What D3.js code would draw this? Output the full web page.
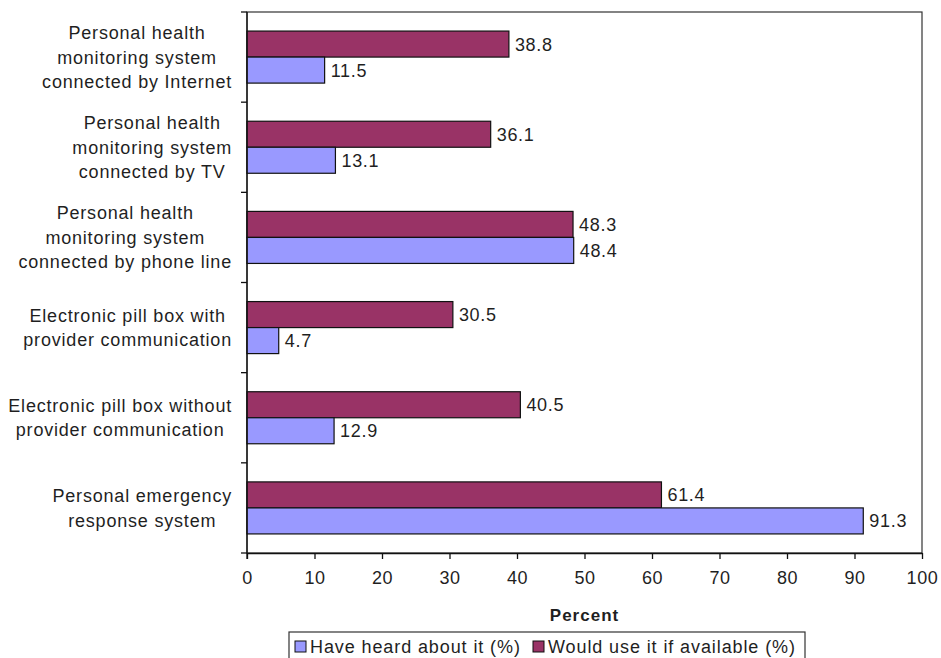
<!DOCTYPE html>
<html>
  <head>
    <meta charset="UTF-8" />
    <style>
      body { margin: 0; background: #fff; }
      text { font-family: "Liberation Sans", Arial, sans-serif; fill: #1f1f1f; }
    </style>
  </head>
  <body>
    <svg></svg>
    <script src="https://d3js.org/d3.v7.min.js"></script>
    <script>
      let width = 941,
        height = 658;

      // chart data, top to bottom
      var categories = [
        ["Personal health", "monitoring system", "connected by Internet"],
        ["Personal health", "monitoring system", "connected by TV"],
        ["Personal health", "monitoring system", "connected by phone line"],
        ["Electronic pill box with", "provider communication"],
        ["Electronic pill box without", "provider communication"],
        ["Personal emergency", "response system"],
      ];
      var wouldUse = [38.8, 36.1, 48.3, 30.5, 40.5, 61.4];
      var heardOf = [11.5, 13.1, 48.4, 4.7, 12.9, 91.3];
      var seriesNames = ["Would use it if available (%)", "Have heard about it (%)"];
      var seriesColors = ["#993366", "#9999ff"];
      var xTicks = [0, 10, 20, 30, 40, 50, 60, 70, 80, 90, 100];

      let margin = { left: 247, right: 19, top: 12, bottom: 105 };

      let svg = d3.select("svg").attr("width", width).attr("height", height);

      var keys = categories.map((c, i) => "c" + i);

      var x = d3.scaleLinear().domain([0, 100]).range([margin.left, width - margin.right]);
      var y = d3
        .scaleBand()
        .domain(keys)
        .range([margin.top, height - margin.bottom])
        .paddingInner(0.423)
        .paddingOuter(0.2115);
      var ySub = d3.scaleBand().domain([0, 1]).range([0, y.bandwidth()]);

      var step = y.step();
      var plotTop = margin.top,
        plotBottom = height - margin.bottom;

      // frame
      svg
        .append("rect")
        .attr("x", x(0))
        .attr("y", plotTop)
        .attr("width", x(100) - x(0))
        .attr("height", plotBottom - plotTop)
        .attr("fill", "none")
        .attr("stroke", "#333")
        .attr("stroke-width", 1.2);

      // bars
      var rows = keys.map((k, i) => ({ key: k, vals: [wouldUse[i], heardOf[i]] }));
      var groups = svg
        .append("g")
        .selectAll("g")
        .data(rows)
        .enter()
        .append("g")
        .attr("transform", (d) => "translate(0," + y(d.key) + ")");

      groups
        .selectAll("rect")
        .data((d) => d.vals)
        .enter()
        .append("rect")
        .attr("x", x(0))
        .attr("y", (d, j) => ySub(j))
        .attr("width", (d) => x(d) - x(0))
        .attr("height", ySub.bandwidth())
        .attr("fill", (d, j) => seriesColors[j])
        .attr("stroke", "#111")
        .attr("stroke-width", 1.2);

      groups
        .selectAll("text.val")
        .data((d) => d.vals)
        .enter()
        .append("text")
        .attr("class", "val")
        .attr("x", (d) => x(d) + 6)
        .attr("y", (d, j) => ySub(j) + ySub.bandwidth() / 2)
        .attr("dy", "0.36em")
        .style("font-size", "18px")
        .style("letter-spacing", "0.7px")
        .text((d) => d.toFixed(1));

      // x axis
      var xAxis = svg
        .append("g")
        .attr("transform", "translate(0," + plotBottom + ")")
        .call(d3.axisBottom(x).tickValues(xTicks).tickSize(6).tickPadding(12).tickSizeOuter(0));
      xAxis.select(".domain").attr("stroke", "#111").attr("stroke-width", 1.3);
      xAxis.selectAll(".tick line").attr("stroke", "#111").attr("stroke-width", 1.3);
      xAxis
        .selectAll(".tick text")
        .style("font-size", "18px")
        .style("letter-spacing", "0.6px")
        .style("font-family", "Liberation Sans, Arial, sans-serif")
        .attr("fill", "#1f1f1f");

      // y axis line and category ticks at band boundaries
      var yAxis = svg.append("g");
      yAxis
        .append("line")
        .attr("x1", x(0))
        .attr("x2", x(0))
        .attr("y1", plotTop)
        .attr("y2", plotBottom + 6)
        .attr("stroke", "#111")
        .attr("stroke-width", 1.3);
      yAxis
        .selectAll("line.tk")
        .data(d3.range(keys.length + 1))
        .enter()
        .append("line")
        .attr("class", "tk")
        .attr("x1", x(0) - 6)
        .attr("x2", x(0))
        .attr("y1", (i) => plotTop + i * step)
        .attr("y2", (i) => plotTop + i * step)
        .attr("stroke", "#111")
        .attr("stroke-width", 1.3);

      // category labels: centered lines, block right-aligned
      var labelRight = 232,
        lineH = 24.5;
      keys.forEach((k, i) => {
        var lines = categories[i];
        var cy = y(k) + y.bandwidth() / 2;
        var g = svg.append("g");
        var texts = g
          .selectAll("text")
          .data(lines)
          .enter()
          .append("text")
          .attr("text-anchor", "middle")
          .attr("y", (d, j) => cy + (j - (lines.length - 1) / 2) * lineH)
          .attr("dy", "0.36em")
          .style("font-size", "18px")
          .style("letter-spacing", "0.8px")
          .text((d) => d);
        var maxW = d3.max(texts.nodes(), (n) => n.getComputedTextLength());
        texts.attr("x", labelRight - maxW / 2);
      });

      // axis title
      svg
        .append("text")
        .attr("x", (x(0) + x(100)) / 2)
        .attr("y", 621)
        .attr("text-anchor", "middle")
        .style("font-size", "17px")
        .style("letter-spacing", "1px")
        .style("font-weight", "bold")
        .text("Percent");

      // legend
      var legend = svg.append("g");
      legend
        .append("rect")
        .attr("x", 289)
        .attr("y", 632)
        .attr("width", 516)
        .attr("height", 40)
        .attr("fill", "#fff")
        .attr("stroke", "#333")
        .attr("stroke-width", 1.2);
      var legItems = [
        { name: seriesNames[1], color: seriesColors[1], x: 295 },
        { name: seriesNames[0], color: seriesColors[0], x: 533 },
      ];
      legItems.forEach((d) => {
        legend
          .append("rect")
          .attr("x", d.x)
          .attr("y", 641)
          .attr("width", 11)
          .attr("height", 11)
          .attr("fill", d.color)
          .attr("stroke", "#111");
        legend
          .append("text")
          .attr("x", d.x + 15)
          .attr("y", 653)
          .style("font-size", "18px")
          .style("letter-spacing", "0.9px")
          .text(d.name);
      });
    </script>
  </body>
</html>
